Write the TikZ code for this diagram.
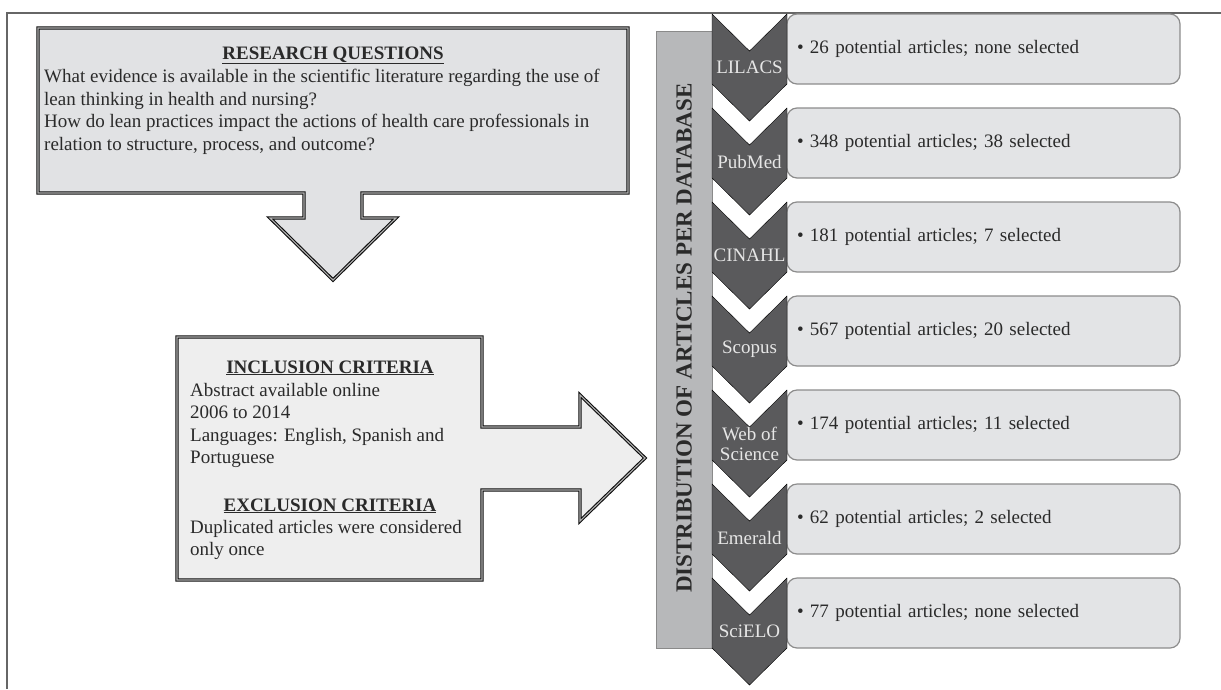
\documentclass[tikz,border=0pt]{standalone}
\usepackage{fontspec}
\setmainfont{Liberation Serif}
\definecolor{qfill}{HTML}{E1E2E4}
\definecolor{cfill}{HTML}{EEEEEE}
\definecolor{barfill}{HTML}{B7B8BA}
\definecolor{bardraw}{HTML}{8A8A8A}
\definecolor{chevfill}{HTML}{5A5A5C}
\definecolor{chevtext}{HTML}{E6E6E6}
\definecolor{boxfill}{HTML}{E3E4E6}
\definecolor{boxdraw}{HTML}{8C8C8C}
\definecolor{txtcol}{HTML}{2A2A2A}
\tikzset{
	framed/.style={draw=black!95, line width=1.1pt, double=gray!60, double distance=1.1pt, line join=miter},
	txt/.style={text=txtcol, font=\fontsize{19}{22.5}\selectfont, inner sep=0pt, align=left},
	hd/.style={text=txtcol, font=\fontsize{19}{22.5}\selectfont\bfseries, inner sep=0pt},
	chev/.style={fill=chevfill},
	dbname/.style={text=chevtext, font=\fontsize{19}{20}\selectfont, inner sep=0pt, align=center},
	dbcount/.style={draw=boxdraw, fill=boxfill, line width=1.2pt, rounded corners=10pt, minimum height=70pt, text width=373pt, inner xsep=10pt, align=left, text=txtcol, font=\fontsize{19}{22.5}\selectfont}
}
\begin{document}
\begin{tikzpicture}[x=1pt, y=-1pt]
	\useasboundingbox (0,0) rectangle (1221,689);
	% frame
	\draw[black!60, line width=1.5pt] (7,689) -- (7,13) -- (1221,13);
	% research questions with down arrow
	\draw[framed, fill=qfill] (38,28) -- (628,28) -- (628,193) -- (362,193) -- (362,218) -- (396,218) -- (333,280) -- (270,218) -- (304,218) -- (304,193) -- (38,193) -- cycle;
	\node[hd, anchor=base] (rt) at (333,59) {\underline{RESEARCH QUESTIONS}};
	\node[txt, anchor=north west] (rb) at (44,69) {What evidence is available in the scientific literature regarding the use of\\lean thinking in health and nursing?\\How do lean practices impact the actions of health care professionals in\\relation to structure, process, and outcome?};
	% criteria with right arrow
	\draw[framed, fill=cfill] (177,337) -- (482,337) -- (482,427) -- (580,427) -- (580,395) -- (645,458) -- (580,521) -- (580,490) -- (482,490) -- (482,580) -- (177,580) -- cycle;
	\node[hd, anchor=base] (it) at (330,373) {\underline{INCLUSION CRITERIA}};
	\node[txt, anchor=north west] (ib) at (190,383) {Abstract available online\\2006 to 2014\\Languages: English, Spanish and\\Portuguese};
	\node[hd, anchor=base] (et) at (330,511) {\underline{EXCLUSION CRITERIA}};
	\node[txt, anchor=north west] (eb) at (190,520) {Duplicated articles were considered\\only once};
	% databases
	\draw[draw=bardraw, fill=barfill, line width=1pt] (656,31) rectangle (712,648);
	\node[text=txtcol, font=\fontsize{23}{26}\selectfont\bfseries, rotate=90, inner sep=0pt] (bt) at (684,338) {DISTRIBUTION OF ARTICLES PER DATABASE};
	\node[dbcount] (c1) at (983.5,49) {\textbullet\ 26 potential articles; none selected};
	\node[dbcount] (c2) at (983.5,143) {\textbullet\ 348 potential articles; 38 selected};
	\node[dbcount] (c3) at (983.5,237) {\textbullet\ 181 potential articles; 7 selected};
	\node[dbcount] (c4) at (983.5,331) {\textbullet\ 567 potential articles; 20 selected};
	\node[dbcount] (c5) at (983.5,425) {\textbullet\ 174 potential articles; 11 selected};
	\node[dbcount] (c6) at (983.5,519) {\textbullet\ 62 potential articles; 2 selected};
	\node[dbcount] (c7) at (983.5,613) {\textbullet\ 77 potential articles; none selected};
	\draw[chev] (712,14) -- (749.5,51) -- (787,14) -- (787,84) -- (749.5,121) -- (712,84) -- cycle;
	\draw[chev] (712,108) -- (749.5,145) -- (787,108) -- (787,178) -- (749.5,215) -- (712,178) -- cycle;
	\draw[chev] (712,202) -- (749.5,239) -- (787,202) -- (787,272) -- (749.5,309) -- (712,272) -- cycle;
	\draw[chev] (712,296) -- (749.5,333) -- (787,296) -- (787,366) -- (749.5,403) -- (712,366) -- cycle;
	\draw[chev] (712,390) -- (749.5,427) -- (787,390) -- (787,460) -- (749.5,497) -- (712,460) -- cycle;
	\draw[chev] (712,484) -- (749.5,521) -- (787,484) -- (787,554) -- (749.5,591) -- (712,554) -- cycle;
	\draw[chev] (712,578) -- (749.5,615) -- (787,578) -- (787,648) -- (749.5,685) -- (712,648) -- cycle;
	\node[dbname] (d1) at (749.5,67.5) {LILACS};
	\node[dbname] (d2) at (749.5,161.5) {PubMed};
	\node[dbname] (d3) at (749.5,255.5) {CINAHL};
	\node[dbname] (d4) at (749.5,349.5) {Scopus};
	\node[dbname] (d5) at (749.5,443.5) {Web of\\Science};
	\node[dbname] (d6) at (749.5,537.5) {Emerald};
	\node[dbname] (d7) at (749.5,631.5) {SciELO};
\end{tikzpicture}
\end{document}
